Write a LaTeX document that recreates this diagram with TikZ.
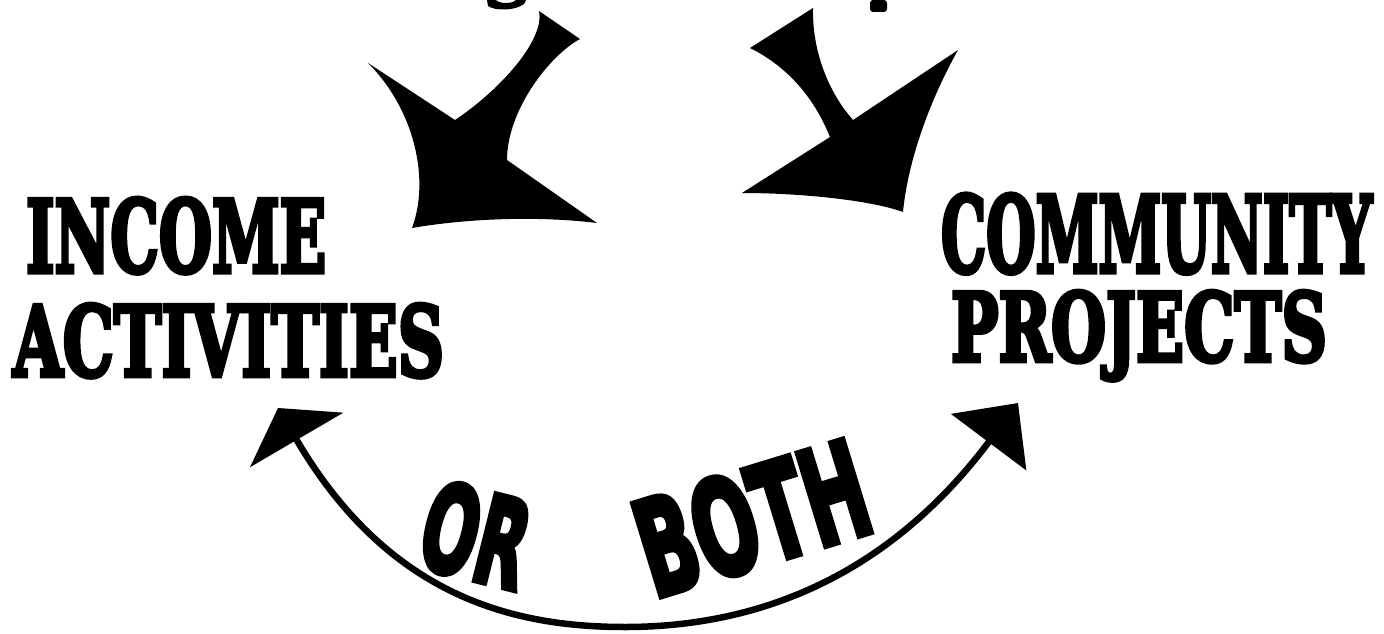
\documentclass[tikz,border=0pt]{standalone}
\usepackage{fontspec}
\usepackage{graphicx}
\newfontfamily\chunky[BoldFeatures={FakeBold=5}]{DejaVu Serif}
\newfontfamily\roundfont[BoldFeatures={FakeBold=5}]{DejaVu Sans}
\usetikzlibrary{arrows.meta}
\begin{document}
\begin{tikzpicture}[x=1pt,y=-1pt,
  lbl/.style={inner sep=0pt, outer sep=0pt, anchor=north west, font=\chunky\bfseries},
  word/.style={inner sep=0pt, outer sep=0pt, anchor=center, font=\roundfont\bfseries},
  ink/.style={fill=black},
  curve/.style={line width=6.5pt, draw=black}]
\useasboundingbox[fill=white] (0,0) rectangle (1384,634);

% labels
\node[lbl] (income) at (26,198) {\resizebox{300pt}{74pt}{INCOME}};
\node[lbl] (activities) at (13,304) {\resizebox{431pt}{72pt}{ACTIVITIES}};
\node[lbl] (community) at (941,194) {\resizebox{431pt}{78pt}{COMMUNITY}};
\node[lbl] (projects) at (951,291) {\resizebox{376pt}{70pt}{PROJECTS}};

% words inside the arc
\node[word, rotate=-14] (orw) at (476,535) {\resizebox{106pt}{90pt}{OR}};
\node[word, rotate=17] (both) at (752,518) {\resizebox{235pt}{98pt}{BOTH}};

% bottom double arrow
\coordinate (la) at (278,408);
\coordinate (ra) at (1018,403);
\coordinate (lowpt) at (625,627);
\draw[curve, {Triangle[length=37pt,width=107pt]}-{Triangle[length=49pt,width=93pt]}]
  (la) .. controls (389,598) and (515,627) .. (lowpt)
       .. controls (755,627) and (886,579) .. (ra);

% big top arrows
\fill[ink] (539,11) -- (580,39) .. controls (550,55) and (507,110) .. (507,160)
  -- (597,223) .. controls (540,216) and (470,218) .. (412,228)
  .. controls (430,180) and (415,110) .. (368,63)
  -- (455,120) .. controls (500,90) and (545,40) .. (539,11) -- cycle;
\fill[ink] (813,8) .. controls (812,60) and (835,100) .. (853,120)
  -- (958,50) .. controls (930,100) and (908,160) .. (903,212)
  .. controls (870,200) and (800,193) .. (742,193)
  -- (830,137) .. controls (815,100) and (790,68) .. (750,48) -- cycle;

% cut-off fragments at the top edge
\fill[ink] (487,0) -- (488,6) .. controls (495,11) and (515,11) .. (524,4) -- (526,0)
  -- (516,0) .. controls (512,4) and (500,4) .. (496,0) -- cycle;
\fill[ink, rounded corners=3pt] (870,0) rectangle (887,12);
\end{tikzpicture}
\end{document}
